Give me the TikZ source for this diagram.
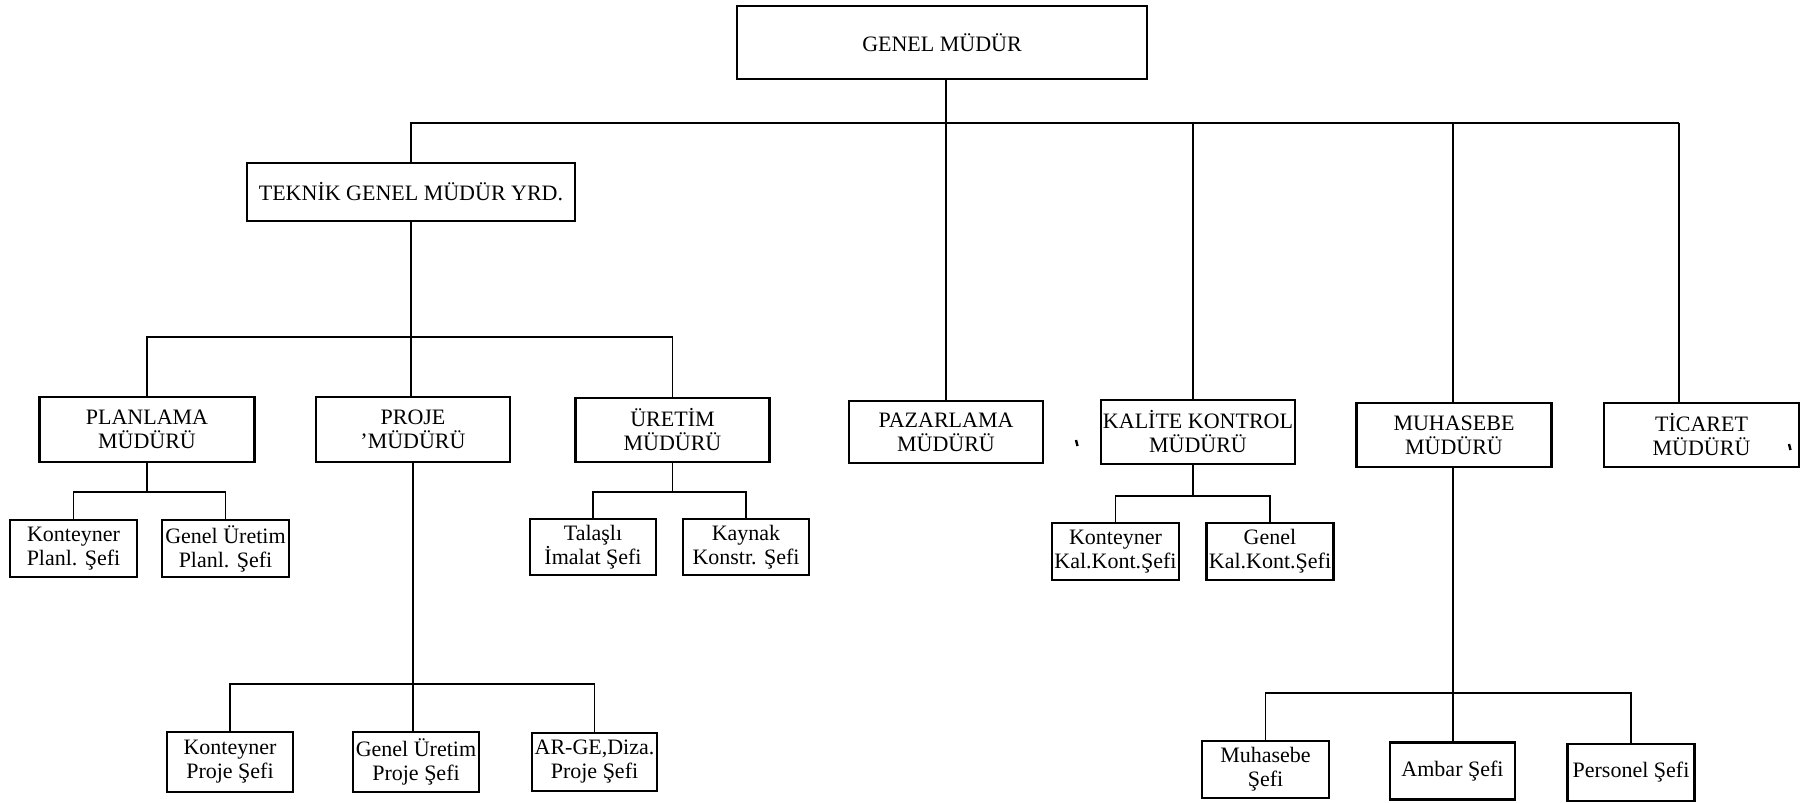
\documentclass[tikz,border=0pt]{standalone}
\usepackage{fontspec}
\setmainfont{Liberation Serif}
\begin{document}
\begin{tikzpicture}[x=0.5pt,y=-0.5pt,
  box/.style={draw=black,line width=1.1pt,fill=white,align=center,inner sep=0.5pt,
    font=\fontsize{11}{12}\selectfont},
  mgr/.style={box,minimum width=97pt,minimum height=32pt},
  sub/.style={box,minimum width=63.5pt,minimum height=28.5pt},
  conn/.style={line width=0.8pt},
  thin/.style={line width=0.6pt}]
\useasboundingbox (0,0) rectangle (1812,803);

% top
\node[box,minimum width=205pt,minimum height=36.5pt] (gm) at (942,42.5) {GENEL MÜDÜR};
\node[box,minimum width=164pt,minimum height=29pt] (teknik) at (411,192) {TEKNİK GENEL MÜDÜR YRD.};

% managers
\node[box,minimum width=107.5pt,minimum height=32.5pt] (planlama) at (147,429.5) {PLANLAMA\\MÜDÜRÜ};
\node[mgr,minimum height=32.5pt] (proje) at (413,429.5) {PROJE\\'MÜDÜRÜ};
\node[mgr] (uretim) at (672.5,430) {ÜRETİM\\MÜDÜRÜ};
\node[mgr,minimum height=31pt] (pazarlama) at (946,432) {PAZARLAMA\\MÜDÜRÜ};
\node[mgr] (kalite) at (1198,432) {KALİTE KONTROL\\MÜDÜRÜ};
\node[mgr,minimum width=97.5pt] (muhasebe) at (1454,435) {MUHASEBE\\MÜDÜRÜ};
\node[mgr,minimum width=97.5pt] (ticaret) at (1701.5,435) {TİCARET\\MÜDÜRÜ};

% chiefs
\node[sub] (kplan) at (73.5,548.5) {Konteyner\\Planl. Şefi};
\node[sub] (gplan) at (225.5,548.5) {Genel Üretim\\Planl. Şefi};
\node[sub,minimum width=63pt,minimum height=28pt] (talasli) at (593,547) {Talaşlı\\İmalat Şefi};
\node[sub,minimum width=63pt,minimum height=28pt] (kaynak) at (746,547) {Kaynak\\Konstr. Şefi};
\node[sub] (kkal) at (1115.5,551.5) {Konteyner\\Kal.Kont.Şefi};
\node[sub] (gkal) at (1270,551.5) {Genel\\Kal.Kont.Şefi};
\node[sub,minimum width=63pt,minimum height=30pt] (kproje) at (230,762) {Konteyner\\Proje Şefi};
\node[sub,minimum width=63pt,minimum height=30pt] (gproje) at (416,762) {Genel Üretim\\Proje Şefi};
\node[sub,minimum width=62.5pt,minimum height=29pt] (arge) at (594.5,762) {AR-GE,Diza.\\Proje Şefi};
\node[sub] (msefi) at (1265.5,769.5) {Muhasebe\\Şefi};
\node[sub,minimum width=62.5pt] (ambar) at (1452.5,771) {Ambar Şefi};
\node[sub] (personel) at (1631,772.5) {Personel Şefi};

% bus coordinates
\coordinate (j0) at (946,123);
\coordinate (jk) at (1193,123);
\coordinate (jm) at (1453,123);
\coordinate (jt) at (1679,123);
\coordinate (j1) at (411,337);
\coordinate (bp) at (0,492);
\coordinate (bu) at (0,492);
\coordinate (bk) at (0,496);
\coordinate (bpr) at (0,684);
\coordinate (bmu) at (0,693);

% level 1
\draw[thin] (gm.south -| j0) -- (j0 |- pazarlama.north);
\draw[conn] (teknik.north) -- (teknik.north |- j0) -- (jt);
\draw[thin] (jt) -- (jt |- ticaret.north);
\draw[thin] (jk) -- (jk |- kalite.north);
\draw[thin] (jm) -- (jm |- muhasebe.north);

% level 2
\draw[conn] (teknik.south) -- (teknik.south |- proje.north);
\draw[conn] (planlama.north) |- (j1) -| (uretim.north);

% level 3
\draw[conn] (planlama.south) -- (planlama.south |- bp);
\draw[conn] (kplan.north) |- (planlama.south |- bp) -| (gplan.north);
\draw[conn] (uretim.south) -- (uretim.south |- bu);
\draw[conn] (talasli.north) |- (uretim.south |- bu) -| (kaynak.north);
\draw[conn] (kalite.south -| jk) -- (jk |- bk);
\draw[conn] (kkal.north) |- (jk |- bk) -| (gkal.north);
\draw[conn] (proje.south) -- (proje.south |- gproje.north);
\draw[conn] (kproje.north) |- (proje.south |- bpr) -| (arge.north);
\draw[conn] (muhasebe.south -| jm) -- (jm |- ambar.north);
\draw[conn] (msefi.north) |- (jm |- bmu) -| (personel.north);

% stray scan marks
\draw[line width=1.2pt] (1076,440) -- (1077.5,446);
\draw[line width=1.2pt] (1789,444) -- (1790.5,450);
\end{tikzpicture}
\end{document}
